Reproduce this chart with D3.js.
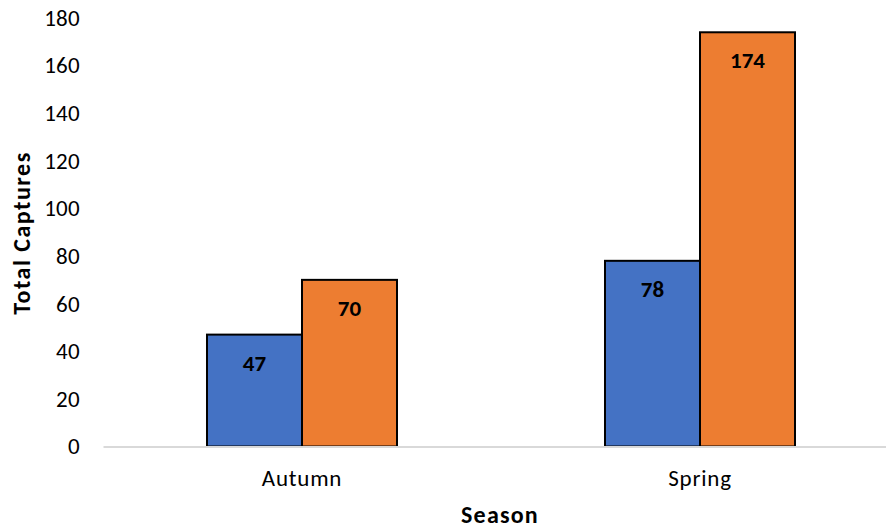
<!DOCTYPE html>
<html>
<head>
<meta charset="utf-8">
<script src="https://cdn.jsdelivr.net/npm/d3@7"></script>
<style>
  html, body { margin: 0; padding: 0; background: #fff; }
  svg { display: block; font-family: Carlito, Calibri, Lato, sans-serif; }
</style>
</head>
<body>
<svg id="chart" width="886" height="529"></svg>
<script>
// Total captures per season, two groups per season
const seasons = ["Autumn", "Spring"];
const seriesNames = ["Group 1", "Group 2"];
const group1Values = [47, 78];
const group2Values = [70, 174];
const yTicks = [0, 20, 40, 60, 80, 100, 120, 140, 160, 180];
const seriesColors = ["#4472C4", "#ED7D31"];

const rows = seasons.map((s, i) => ({
  season: s,
  values: [group1Values[i], group2Values[i]]
}));

const FONT = "Carlito, Calibri, Lato, sans-serif";
const svg = d3.select("#chart");
const plot = { left: 103, right: 899, top: 18, bottom: 446.5 };

const y = d3.scaleLinear().domain([0, 180]).range([plot.bottom, plot.top]);
const x0 = d3.scaleBand().domain(seasons).range([plot.left, plot.right]).padding(0);
const groupW = x0.bandwidth() * 0.4774;
const x1 = d3.scaleBand().domain(d3.range(seriesNames.length))
  .range([(x0.bandwidth() - groupW) / 2, (x0.bandwidth() + groupW) / 2]).padding(0);

// y tick labels (no gridlines, no axis line)
const yAxis = d3.axisLeft(y).tickValues(yTicks).tickSize(0).tickPadding(0);
const gy = svg.append("g").attr("transform", `translate(80,0)`).call(yAxis);
gy.select(".domain").remove();
gy.selectAll("text").attr("font-size", 23).attr("fill", "#000")
  .attr("font-family", FONT).attr("letter-spacing", 0.3);

// bars
const groups = svg.append("g").selectAll("g").data(rows).join("g")
  .attr("transform", d => `translate(${x0(d.season)},0)`);

groups.selectAll("rect").data(d => d.values.map((v, i) => ({ v, i }))).join("rect")
  .attr("x", d => x1(d.i))
  .attr("width", x1.bandwidth())
  .attr("y", d => y(d.v))
  .attr("height", d => y(0) - y(d.v))
  .attr("fill", d => seriesColors[d.i])
  .attr("stroke", "#000")
  .attr("stroke-width", 2);

// value labels inside the bar tops
groups.selectAll("text.val").data(d => d.values.map((v, i) => ({ v, i }))).join("text")
  .attr("class", "val")
  .attr("x", d => x1(d.i) + x1.bandwidth() / 2)
  .attr("y", d => y(d.v) + 28)
  .attr("text-anchor", "middle")
  .attr("dominant-baseline", "central")
  .attr("font-size", 23)
  .attr("font-weight", "bold")
  .attr("fill", "#000")
  .text(d => d.v);

// x axis baseline and category labels
const xAxis = d3.axisBottom(x0).tickSize(0).tickPadding(0);
const gx = svg.append("g").attr("transform", `translate(0,${plot.bottom})`).call(xAxis);
gx.select(".domain").attr("stroke", "#D9D9D9").attr("stroke-width", 2);
gx.selectAll("text").attr("font-size", 23).attr("fill", "#000")
  .attr("font-family", FONT).attr("letter-spacing", 0.8)
  .attr("dy", null).attr("y", 31).attr("dominant-baseline", "central");

// axis titles
svg.append("text")
  .attr("x", 500)
  .attr("y", 514)
  .attr("text-anchor", "middle")
  .attr("dominant-baseline", "central")
  .attr("font-size", 24).attr("font-weight", "bold")
  .attr("letter-spacing", 1.2)
  .text("Season");

svg.append("text")
  .attr("transform", `translate(21,233) rotate(-90)`)
  .attr("text-anchor", "middle")
  .attr("dominant-baseline", "central")
  .attr("font-size", 24).attr("font-weight", "bold")
  .attr("letter-spacing", 1.5)
  .text("Total Captures");
</script>
</body>
</html>
